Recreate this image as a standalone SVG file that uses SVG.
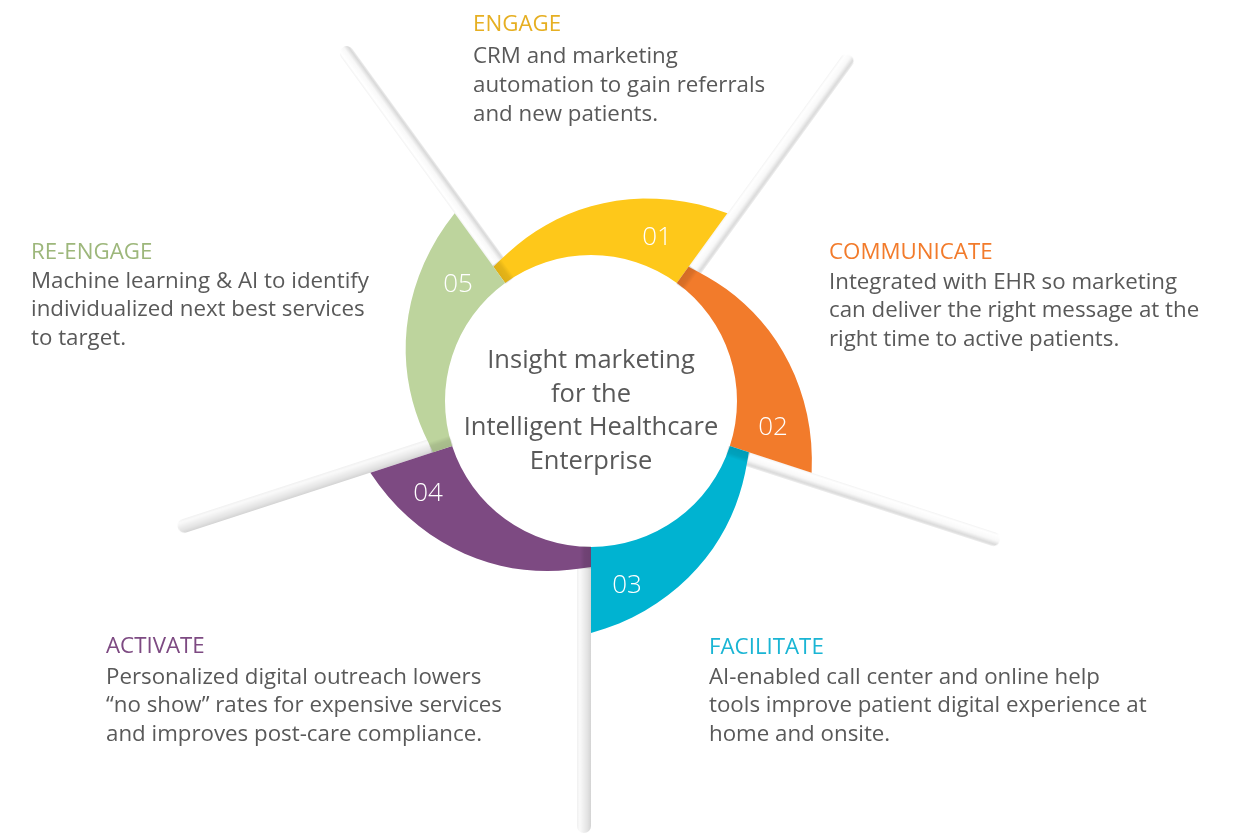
<svg xmlns="http://www.w3.org/2000/svg" xmlns:xlink="http://www.w3.org/1999/xlink" width="1235" height="836" viewBox="0 0 1235 836">
<defs>
<style>
.title{font-family:"Open Sans","Noto Sans",sans-serif;font-size:22.3px}
.body{font-family:"Open Sans","Noto Sans",sans-serif;font-size:22.3px;fill:#595959}
.num{font-family:"Open Sans","Noto Sans",sans-serif;font-size:26px;font-weight:300;fill:#ffffff;text-anchor:middle}
.center{font-family:"Open Sans","Noto Sans",sans-serif;font-size:25.5px;fill:#595959;text-anchor:middle}
</style>
<path id="seg" d="M166,0 L167.48,10.54 L168.82,21.33 L169.71,32.37 L170.05,43.66 L169.76,55.16 L168.81,66.84 L167.14,78.65 L164.73,90.56 L161.54,102.52 L157.54,114.46 L152.72,126.34 L147.07,138.11 L140.58,149.70 L133.23,161.05 L125.04,172.10 L116.01,182.80 L106.13,193.06 L95.44,202.83 L83.95,211.99 L71.69,220.65 L45.12,138.85 A146,146 0 0 0 146,0 Z"/>
<rect id="blade" x="150" y="0" width="282" height="14" rx="7" ry="7"/>
<rect id="shade" x="145" y="0" width="22.5" height="11"/>
<linearGradient id="gA" x1="0" y1="0" x2="0" y2="1">
<stop offset="0" stop-color="#f2f2f2"/>
<stop offset="0.15" stop-color="#ffffff"/>
<stop offset="0.55" stop-color="#f8f8f8"/>
<stop offset="0.85" stop-color="#d9d9d9"/>
<stop offset="1" stop-color="#efefef"/>
</linearGradient>
<linearGradient id="gB" x1="0" y1="0" x2="0" y2="1">
<stop offset="0" stop-color="#d3d3d3"/>
<stop offset="0.25" stop-color="#e3e3e3"/>
<stop offset="0.8" stop-color="#fafafa"/>
<stop offset="1" stop-color="#f0f0f0"/>
</linearGradient>
<linearGradient id="sh" x1="0" y1="0" x2="0" y2="1">
<stop offset="0" stop-color="#000" stop-opacity="0.13"/>
<stop offset="0.6" stop-color="#000" stop-opacity="0.1"/>
<stop offset="1" stop-color="#000" stop-opacity="0"/>
</linearGradient>
<filter id="soft" x="-0.05" y="-0.5" width="1.1" height="2">
<feGaussianBlur stdDeviation="0.6"/>
</filter>
</defs>
<rect width="1235" height="836" fill="#ffffff"/>

<g id="blades" filter="url(#soft)">
<use xlink:href="#blade" transform="translate(591,401) rotate(234)" fill="url(#gA)"/>
<use xlink:href="#blade" transform="translate(591,401) rotate(306)" fill="url(#gA)"/>
<use xlink:href="#blade" transform="translate(591,401) rotate(18)" fill="url(#gA)"/>
<use xlink:href="#blade" transform="translate(591,401) rotate(90)" fill="url(#gB)"/>
<use xlink:href="#blade" transform="translate(591,401) rotate(162)" fill="url(#gB)"/>
</g>

<g id="seg01">
<use xlink:href="#seg" transform="translate(591,401) rotate(234)" fill="#FEC81A"/>
<use xlink:href="#shade" transform="translate(591,401) rotate(234)" fill="url(#sh)"/>
<text class="num" x="657" y="245">01</text>
</g>
<g id="seg02">
<use xlink:href="#seg" transform="translate(591,401) rotate(306)" fill="#F27B2B"/>
<use xlink:href="#shade" transform="translate(591,401) rotate(306)" fill="url(#sh)"/>
<text class="num" x="773" y="435">02</text>
</g>
<g id="seg03">
<use xlink:href="#seg" transform="translate(591,401) rotate(18)" fill="#00B3D1"/>
<use xlink:href="#shade" transform="translate(591,401) rotate(18)" fill="url(#sh)"/>
<text class="num" x="627" y="593">03</text>
</g>
<g id="seg04">
<use xlink:href="#seg" transform="translate(591,401) rotate(90)" fill="#7D4A82"/>
<use xlink:href="#shade" transform="translate(591,401) rotate(90)" fill="url(#sh)"/>
<text class="num" x="428" y="501">04</text>
</g>
<g id="seg05">
<use xlink:href="#seg" transform="translate(591,401) rotate(162)" fill="#BDD49D"/>
<use xlink:href="#shade" transform="translate(591,401) rotate(162)" fill="url(#sh)"/>
<text class="num" x="458" y="292">05</text>
</g>

<g id="center">
<text class="center" x="591" y="367.5">Insight marketing</text>
<text class="center" x="591" y="401.5">for the</text>
<text class="center" x="591" y="435">Intelligent Healthcare</text>
<text class="center" x="591" y="468.5">Enterprise</text>
</g>

<g id="engage">
<text class="title" x="473" y="31" fill="#E6AF22">ENGAGE</text>
<text class="body" x="473" y="63">CRM and marketing</text>
<text class="body" x="473" y="92">automation to gain referrals</text>
<text class="body" x="473" y="120.5">and new patients.</text>
</g>
<g id="communicate">
<text class="title" x="829" y="258.5" fill="#F27B2B">COMMUNICATE</text>
<text class="body" x="829" y="288.5">Integrated with EHR so marketing</text>
<text class="body" x="829" y="317">can deliver the right message at the</text>
<text class="body" x="829" y="345.5">right time to active patients.</text>
</g>
<g id="facilitate">
<text class="title" x="709" y="653.5" fill="#1AB5D4">FACILITATE</text>
<text class="body" x="709" y="683.5">AI-enabled call center and online help</text>
<text class="body" x="709" y="712">tools improve patient digital experience at</text>
<text class="body" x="709" y="740.5">home and onsite.</text>
</g>
<g id="activate">
<text class="title" x="106" y="652.5" fill="#7D4A82">ACTIVATE</text>
<text class="body" x="106" y="683.5">Personalized digital outreach lowers</text>
<text class="body" x="106" y="712">“no show” rates for expensive services</text>
<text class="body" x="106" y="740.5">and improves post-care compliance.</text>
</g>
<g id="reengage">
<text class="title" x="31" y="258.5" fill="#9DB77B">RE-ENGAGE</text>
<text class="body" x="31" y="287.5">Machine learning &amp; AI to identify</text>
<text class="body" x="31" y="316">individualized next best services</text>
<text class="body" x="31" y="345">to target.</text>
</g>
</svg>
